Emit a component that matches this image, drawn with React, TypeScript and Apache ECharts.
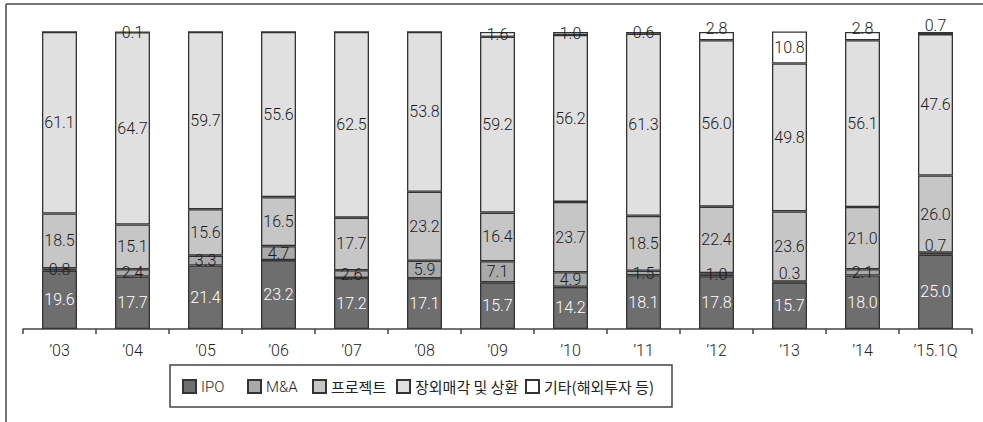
import React, { useEffect, useRef } from "react";
import * as echarts from "echarts";

const categories = ["’03", "’04", "’05", "’06", "’07", "’08", "’09", "’10", "’11", "’12", "’13", "’14", "’15.1Q"];
const seriesNames = ["IPO", "M&A", "프로젝트", "장외매각 및 상환", "기타(해외투자 등)"];
const ipo = [19.6, 17.7, 21.4, 23.2, 17.2, 17.1, 15.7, 14.2, 18.1, 17.8, 15.7, 18.0, 25.0];
const mna = [0.8, 2.4, 3.3, 4.7, 2.6, 5.9, 7.1, 4.9, 1.5, 1.0, 0.3, 2.1, 0.7];
const project = [18.5, 15.1, 15.6, 16.5, 17.7, 23.2, 16.4, 23.7, 18.5, 22.4, 23.6, 21.0, 26.0];
const otc = [61.1, 64.7, 59.7, 55.6, 62.5, 53.8, 59.2, 56.2, 61.3, 56.0, 49.8, 56.1, 47.6];
const others = [0, 0.1, 0, 0, 0, 0, 1.6, 1.0, 0.6, 2.8, 10.8, 2.8, 0.7];

const colors = ["#6e6e6e", "#a9a9a9", "#c6c6c6", "#e0e0e0", "#ffffff"];
const labelColors = ["#ffffff", "#1a1a1a", "#1a1a1a", "#1a1a1a", "#1a1a1a"];
// label nudges for tiny segments (series index -> category index list)
const raisedLabels: Record<number, number[]> = { 1: [10, 12], 4: [9, 11, 12] };
const legendLefts = [182, 247, 312, 396, 525];

export default function App() {
  const ref = useRef<HTMLDivElement>(null);
  useEffect(() => {
    if (!ref.current) return;
    const chart = echarts.init(ref.current, null, { renderer: "svg" });
    const all = [ipo, mna, project, otc, others];
    const font = "Roboto, 'Noto Sans CJK KR', sans-serif";
    const series = all.map((arr, si) => ({
      name: seriesNames[si],
      type: "bar",
      stack: "total",
      barWidth: 35,
      itemStyle: { color: colors[si], borderColor: "#333333", borderWidth: 1.3 },
      label: {
        show: true,
        position: "inside",
        color: labelColors[si],
        fontSize: 16,
        fontWeight: 300,
        fontFamily: font,
        formatter: (p: any) => (p.value > 0 ? Number(p.value).toFixed(1) : ""),
      },
      data: arr.map((v, ci) =>
        (raisedLabels[si] || []).includes(ci)
          ? { value: v, label: { offset: [0, -8] } }
          : v
      ),
    }));
    const legends = seriesNames.map((n, i) => ({
      data: [n],
      left: legendLefts[i],
      top: 379,
      padding: 0,
      itemWidth: 13,
      itemHeight: 13,
      itemGap: 5,
      icon: "rect",
      textStyle: { fontSize: 15, color: "#222", fontFamily: i < 2 ? "Roboto" : "'Noto Sans CJK KR'", fontWeight: i < 2 ? 300 : 400 },
    }));
    chart.setOption({
      animation: false,
      backgroundColor: "#ffffff",
      grid: { left: 23, right: 11, top: 32, bottom: 93, containLabel: false },
      xAxis: {
        type: "category",
        data: categories,
        axisLine: { lineStyle: { color: "#444", width: 1.5 } },
        axisTick: { show: true, length: 5, inside: false, lineStyle: { color: "#444", width: 1.5 } },
        axisLabel: { color: "#222", fontSize: 16, fontWeight: 300, fontFamily: font, margin: 13 },
      },
      yAxis: { type: "value", min: 0, max: 100, show: false, splitLine: { show: false } },
      legend: legends,
      graphic: [
        { type: "line", shape: { x1: 6, y1: 4, x2: 983, y2: 4 }, style: { stroke: "#777", lineWidth: 2 } },
        { type: "line", shape: { x1: 6, y1: 4, x2: 6, y2: 422 }, style: { stroke: "#444", lineWidth: 1.5 } },
        { type: "rect", shape: { x: 170, y: 365, width: 502, height: 42 }, style: { fill: "none", stroke: "#444", lineWidth: 1.5 }, z: -1 },
      ],
      series,
    });
    return () => chart.dispose();
  }, []);
  return <div ref={ref} style={{ width: 983, height: 422, position: "absolute", left: 0, top: 0 }} />;
}
